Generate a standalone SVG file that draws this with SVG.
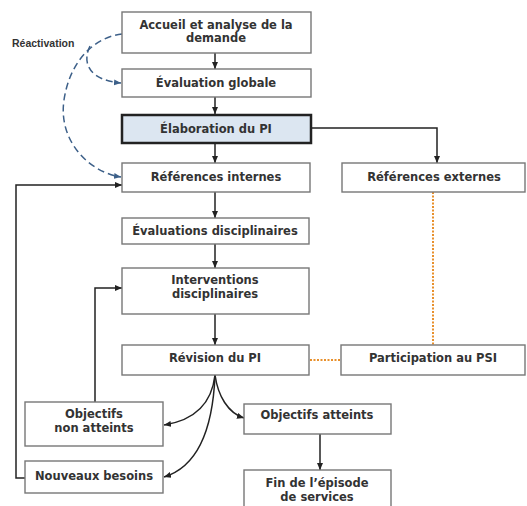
<svg xmlns="http://www.w3.org/2000/svg" width="527" height="506" viewBox="0 0 527 506">
<style>
.box{fill:#fff;stroke:#777;stroke-width:1.4}
.main{fill:#dce6f1;stroke:#222;stroke-width:2.5}
.t{font-family:"DejaVu Sans",Verdana,sans-serif;font-weight:bold;font-size:11.5px;fill:#333;text-anchor:middle}
.lbl{font-family:"Liberation Sans",Arial,sans-serif;font-weight:bold;font-size:10.5px;fill:#333}
.c{fill:none;stroke:#222;stroke-width:1.5}
.d{fill:none;stroke:#3d6089;stroke-width:1.5;stroke-dasharray:7,4}
.o{fill:none;stroke:#e8902c;stroke-width:2;stroke-dasharray:2,1.5}
</style>
<defs>
<marker id="a" markerWidth="8" markerHeight="8" refX="7" refY="4" orient="auto" markerUnits="userSpaceOnUse"><path d="M0,1 L7,4 L0,7 Z" fill="#222"/></marker>
<marker id="b" markerWidth="8" markerHeight="8" refX="7" refY="4" orient="auto" markerUnits="userSpaceOnUse"><path d="M0,1 L7,4 L0,7 Z" fill="#3d6089"/></marker>
</defs>
<g id="connectors">
<path class="c" d="M215,53 V69" marker-end="url(#a)"/>
<path class="c" d="M215,97 V114" marker-end="url(#a)"/>
<path class="c" d="M215,143 V163" marker-end="url(#a)"/>
<path class="c" d="M311,128 H437 V163" marker-end="url(#a)"/>
<path class="c" d="M215,192 V218" marker-end="url(#a)"/>
<path class="c" d="M215,244 V268" marker-end="url(#a)"/>
<path class="c" d="M215,314 V345" marker-end="url(#a)"/>
<path class="c" d="M215,375 C212,402 196,420 164,425" marker-end="url(#a)"/>
<path class="c" d="M215,375 C213,425 200,466 164,477" marker-end="url(#a)"/>
<path class="c" d="M215,375 C218,396 228,413 244,418" marker-end="url(#a)"/>
<path class="c" d="M320,434 V470" marker-end="url(#a)"/>
<path class="c" d="M95,402 V288 H122" marker-end="url(#a)"/>
<path class="c" d="M25,478 H16 V185 H122" marker-end="url(#a)"/>
<path class="d" d="M122,34 C95,37 70,60 64,100 C58,140 88,172 121,177" marker-end="url(#b)"/>
<path class="d" d="M90,46 C82,62 88,80 121,83" marker-end="url(#b)"/>
<path class="o" d="M433,192 V345"/>
<path class="o" d="M310,360 H341"/>
</g>
<text class="lbl" x="12" y="47">Réactivation</text>
<g id="n1"><rect class="box" x="122" y="12" width="189" height="41"/><text class="t" x="216" y="29">Accueil et analyse de la</text><text class="t" x="216" y="42">demande</text></g>
<g id="n2"><rect class="box" x="122" y="69" width="189" height="28"/><text class="t" x="216" y="87">Évaluation globale</text></g>
<g id="n3"><rect class="main" x="122" y="115" width="189" height="28"/><text class="t" x="216" y="133">Élaboration du PI</text></g>
<g id="n4"><rect class="box" x="122" y="163" width="188" height="29"/><text class="t" x="216" y="181">Références internes</text></g>
<g id="n5"><rect class="box" x="342" y="163" width="183" height="29"/><text class="t" x="434" y="181">Références externes</text></g>
<g id="n6"><rect class="box" x="122" y="218" width="187" height="26"/><text class="t" x="215" y="235">Évaluations disciplinaires</text></g>
<g id="n7"><rect class="box" x="122" y="268" width="187" height="46"/><text class="t" x="215" y="284">Interventions</text><text class="t" x="215" y="298">disciplinaires</text></g>
<g id="n8"><rect class="box" x="122" y="345" width="187" height="30"/><text class="t" x="215" y="362">Révision du PI</text></g>
<g id="n9"><rect class="box" x="341" y="345" width="184" height="30"/><text class="t" x="433" y="362">Participation au PSI</text></g>
<g id="n10"><rect class="box" x="25" y="402" width="138" height="44"/><text class="t" x="94" y="418">Objectifs</text><text class="t" x="94" y="432">non atteints</text></g>
<g id="n11"><rect class="box" x="25" y="461" width="138" height="32"/><text class="t" x="94" y="480">Nouveaux besoins</text></g>
<g id="n12"><rect class="box" x="244" y="404" width="147" height="30"/><text class="t" x="317" y="419">Objectifs atteints</text></g>
<g id="n13"><rect class="box" x="244" y="470" width="147" height="40"/><text class="t" x="317" y="487">Fin de l’épisode</text><text class="t" x="317" y="501">de services</text></g>
</svg>
